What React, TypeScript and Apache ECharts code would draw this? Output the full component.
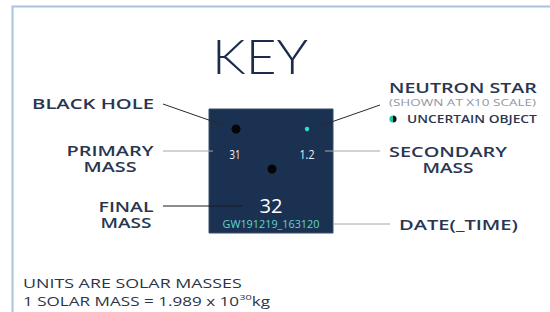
import React, { useEffect, useRef } from "react";
import * as echarts from "echarts";

// ---- content / data ----
const titleText = "KEY";
const primaryMass = "31";
const secondaryMass = "1.2";
const finalMass = "32";
const eventName = "GW191219_163120";
const blackHoleLabel = ["BLACK HOLE"];
const primaryLabel = ["PRIMARY", "MASS"];
const finalLabel = ["FINAL", "MASS"];
const neutronLabel = ["NEUTRON STAR"];
const neutronNote = ["(SHOWN AT X10 SCALE)"];
const uncertainLabel = ["UNCERTAIN OBJECT"];
const secondaryLabel = ["SECONDARY", "MASS"];
const dateLabel = ["DATE(_TIME)"];
const unitsLine = "UNITS ARE SOLAR MASSES";
const solarMassBase = "1 SOLAR MASS = 1.989 x 10";
const solarMassExp = "30";
const solarMassUnit = "kg";

const FONT = "Open Sans";
const LABEL_WEIGHT = 600;
const NAVY = "#2a3650";

let ctx: CanvasRenderingContext2D | null = null;
function measure(text: string, size: number, weight: string | number, family: string) {
  if (!ctx) ctx = document.createElement("canvas").getContext("2d");
  if (!ctx) return text.length * size * 0.6;
  ctx.font = `${weight} ${size}px "${family}"`;
  return ctx.measureText(text).width;
}

type TOpts = {
  size: number;
  weight?: string | number;
  family?: string;
  color?: string;
  align?: "left" | "right" | "center";
  width?: number;
};

function txt(text: string, x: number, y: number, o: TOpts) {
  const weight = o.weight ?? LABEL_WEIGHT;
  const family = o.family ?? FONT;
  const align = o.align ?? "left";
  const w = measure(text, o.size, weight, family);
  const sx = o.width ? o.width / w : 1;
  return {
    type: "text",
    x,
    y,
    scaleX: sx,
    silent: true,
    style: {
      text,
      x: 0,
      y: 0,
      fill: o.color ?? NAVY,
      fontSize: o.size,
      fontWeight: weight,
      fontFamily: family,
      align,
      verticalAlign: "middle",
      textAlign: align,
      textVerticalAlign: "middle",
    },
  };
}

function line(x1: number, y1: number, x2: number, y2: number, color: string, w = 1) {
  return {
    type: "line",
    silent: true,
    shape: { x1, y1, x2, y2 },
    style: { stroke: color, lineWidth: w },
  };
}

function circle(cx: number, cy: number, r: number, fill: string) {
  return { type: "circle", silent: true, shape: { cx, cy, r }, style: { fill } };
}

export default function App() {
  const ref = useRef<HTMLDivElement>(null);
  useEffect(() => {
    if (!ref.current) return;
    const chart = echarts.init(ref.current, null, { renderer: "svg" });

    const baseSize = 12.5;
    const footWeight = 500;
    const wBase = measure(solarMassBase, baseSize, footWeight, FONT);
    const wExp = measure(solarMassExp, 8, footWeight, FONT);
    const wUnit = measure(solarMassUnit, baseSize, footWeight, FONT);
    const unitsW = measure(unitsLine, baseSize, footWeight, FONT);
    const unitsScale = 219 / unitsW;
    const solarScale = 247 / (wBase + wExp + wUnit);
    const footColor = "#2b3447";

    const graphic: any[] = [
      // page frame
      {
        type: "rect",
        silent: true,
        shape: { x: 12.5, y: 6.5, width: 700, height: 500 },
        style: { fill: "none", stroke: "#a9c2de", lineWidth: 2 },
      },
      // title
      txt(titleText, 260, 55, { size: 48, weight: 300, family: "Lato", color: "#1c2b4b", align: "center", width: 96 }),

      // key box
      {
        type: "rect",
        silent: true,
        shape: { x: 209, y: 109, width: 124, height: 124 },
        style: { fill: "#1b3152", stroke: "#3b4c6b", lineWidth: 1 },
      },
      circle(236, 129, 4.5, "#050505"),
      circle(307, 129, 2.2, "#2fe0c6"),
      circle(272, 169, 4.5, "#050505"),
      txt(primaryMass, 235, 154, { size: 12, weight: "normal", color: "#f2f4f8", align: "center", width: 11 }),
      txt(secondaryMass, 307, 154, { size: 12, weight: "normal", color: "#f2f4f8", align: "center", width: 15 }),
      txt(finalMass, 271, 206, { size: 20, weight: "normal", color: "#ffffff", align: "center", width: 23 }),
      txt(eventName, 271, 223, { size: 11, weight: "normal", color: "#63d6c8", align: "center", width: 97 }),

      // connector lines
      line(163, 104, 223, 125, "#2a2a2a"),
      line(163, 151, 213, 151, "#a6a6a6"),
      line(163, 206, 242, 206, "#1a1a1a"),
      line(380, 105, 320, 126, "#2a2a2a"),
      line(325, 151, 380, 151, "#a6a6a6"),
      line(333, 224, 390, 224, "#a6a6a6"),

      // left labels
      txt(blackHoleLabel[0], 154, 103, { size: 14, align: "right", width: 122 }),
      txt(primaryLabel[0], 110, 151, { size: 14, align: "center", width: 87 }),
      txt(primaryLabel[1], 110, 167, { size: 14, align: "center", width: 53 }),
      txt(finalLabel[0], 126, 207, { size: 14, align: "center", width: 55 }),
      txt(finalLabel[1], 126, 223, { size: 14, align: "center", width: 51 }),

      // right labels
      txt(neutronLabel[0], 389, 88, { size: 14, align: "left", width: 148 }),
      txt(neutronNote[0], 389, 102, { size: 9.5, weight: "normal", color: "#9098a4", align: "left", width: 147 }),
      {
        type: "sector",
        silent: true,
        shape: { cx: 393, cy: 119, r0: 0, r: 3.6, startAngle: Math.PI / 2, endAngle: (3 * Math.PI) / 2, clockwise: true },
        style: { fill: "#1fc4a6" },
      },
      {
        type: "sector",
        silent: true,
        shape: { cx: 393, cy: 119, r0: 0, r: 3.6, startAngle: -Math.PI / 2, endAngle: Math.PI / 2, clockwise: true },
        style: { fill: "#111111" },
      },
      txt(uncertainLabel[0], 407, 119, { size: 11, align: "left", width: 130 }),
      txt(secondaryLabel[0], 448, 152, { size: 14, align: "center", width: 118 }),
      txt(secondaryLabel[1], 448, 168, { size: 14, align: "center", width: 51 }),
      txt(dateLabel[0], 399, 224, { size: 14, align: "left", width: 119 }),

      // footnote
      {
        type: "text",
        x: 23,
        y: 284,
        scaleX: unitsScale,
        silent: true,
        style: {
          text: unitsLine,
          x: 0,
          y: 0,
          fill: footColor,
          fontSize: baseSize,
          fontWeight: footWeight,
          fontFamily: FONT,
          align: "left",
          verticalAlign: "middle",
        },
      },
      {
        type: "text",
        x: 23,
        y: 300,
        scaleX: solarScale,
        silent: true,
        style: {
          text: `{b|${solarMassBase}}{s|${solarMassExp}}{b|${solarMassUnit}}`,
          x: 0,
          y: 0,
          fill: footColor,
          fontSize: baseSize,
          fontWeight: footWeight,
          fontFamily: FONT,
          align: "left",
          verticalAlign: "middle",
          rich: {
            b: { fontSize: baseSize, fontWeight: footWeight, fontFamily: FONT, fill: footColor, lineHeight: 14, verticalAlign: "bottom" },
            s: { fontSize: 8, fontWeight: footWeight, fontFamily: FONT, fill: footColor, lineHeight: 14, verticalAlign: "top" },
          },
        },
      },
    ];

    chart.setOption({
      animation: false,
      backgroundColor: "#ffffff",
      graphic,
    });
    return () => chart.dispose();
  }, []);

  return (
    <div
      ref={ref}
      style={{ position: "absolute", left: 0, top: 0, width: 550, height: 312, background: "#fff" }}
    />
  );
}
